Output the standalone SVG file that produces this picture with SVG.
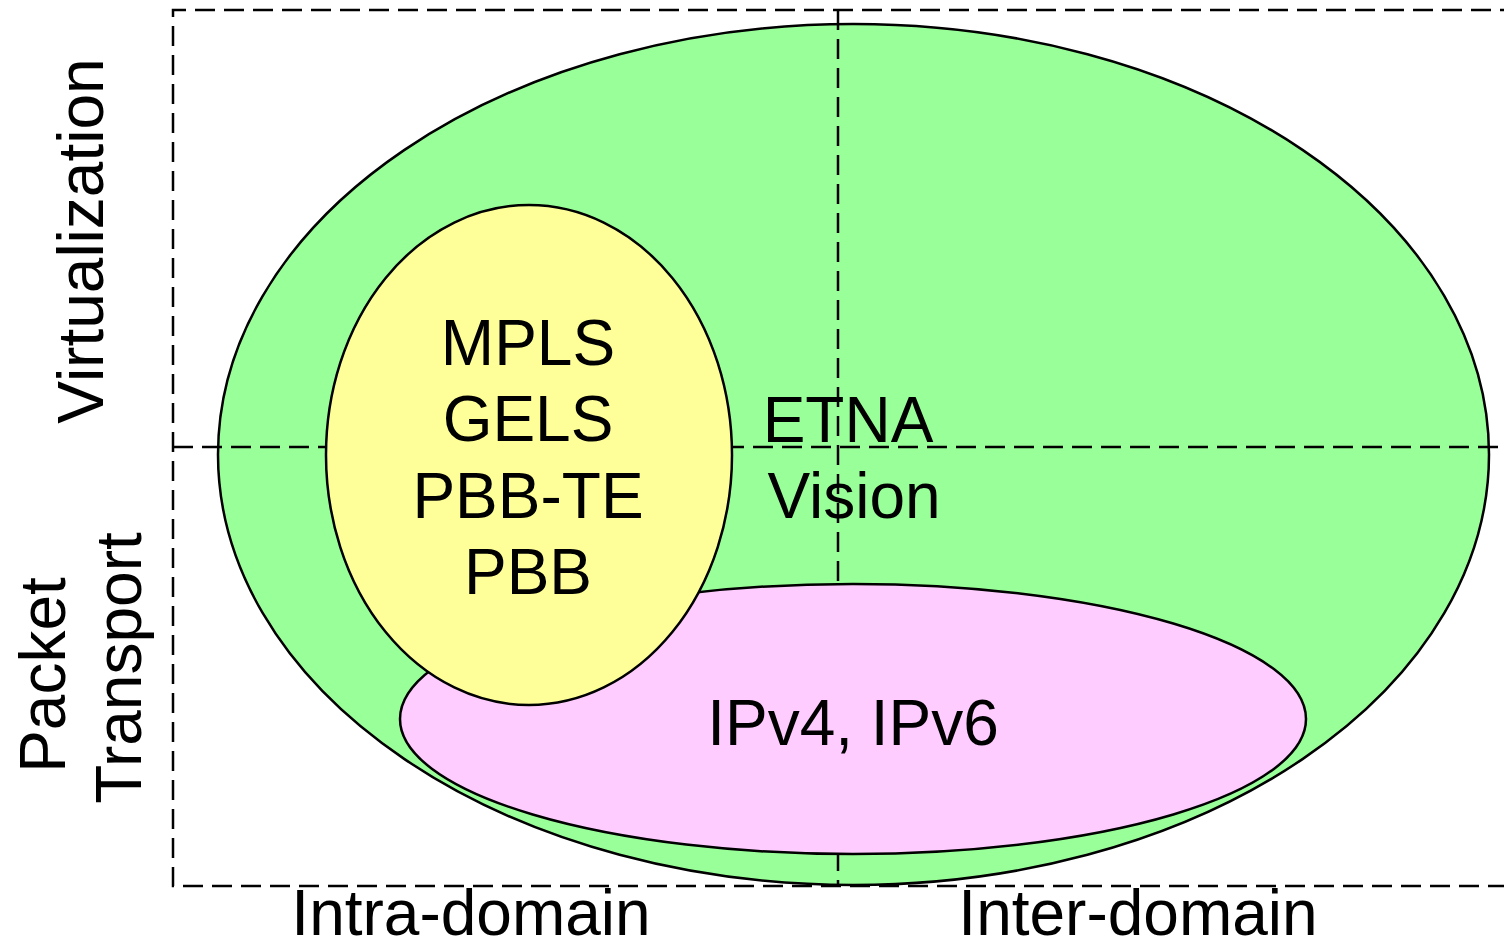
<svg xmlns="http://www.w3.org/2000/svg" width="1504" height="942" viewBox="0 0 1504 942">
<style>
.t{font-family:"Liberation Sans",Arial,sans-serif;font-size:64px;fill:#000;text-anchor:middle}
.d{fill:none;stroke:#000;stroke-width:2.5;stroke-dasharray:20 9}
.e{stroke:#000;stroke-width:2.5}
</style>
<rect width="1504" height="942" fill="#fff"/>
<g id="frame">
<path class="d" d="M1520 10 H173 V886 H1520"/>
</g>
<g id="etna">
<ellipse class="e" cx="853.5" cy="454.5" rx="635.5" ry="430.5" fill="#99FF99"/>
</g>
<g id="axes">
<line class="d" x1="173" y1="447" x2="1504" y2="447"/>
<line class="d" x1="838" y1="10" x2="838" y2="886"/>
</g>
<g id="ip">
<ellipse class="e" cx="853" cy="719" rx="453" ry="135" fill="#FFCCFF"/>
<text class="t" x="853" y="745">IPv4, IPv6</text>
</g>
<g id="mpls">
<ellipse class="e" cx="529" cy="455" rx="203" ry="250" fill="#FFFF99"/>
<text class="t" x="528" y="365">MPLS</text>
<text class="t" x="528" y="441">GELS</text>
<text class="t" x="528" y="518">PBB-TE</text>
<text class="t" x="528" y="594">PBB</text>
</g>
<g id="etna-label">
<text class="t" x="848" y="442">ETNA</text>
<text class="t" x="854" y="518">Vision</text>
</g>
<g id="labels">
<text class="t" transform="translate(103,241) rotate(-90)">Virtualization</text>
<text class="t" transform="translate(65,675) rotate(-90)">Packet</text>
<text class="t" transform="translate(141,668) rotate(-90)">Transport</text>
<text class="t" x="471" y="935">Intra-domain</text>
<text class="t" x="1138" y="935">Inter-domain</text>
</g>
</svg>
